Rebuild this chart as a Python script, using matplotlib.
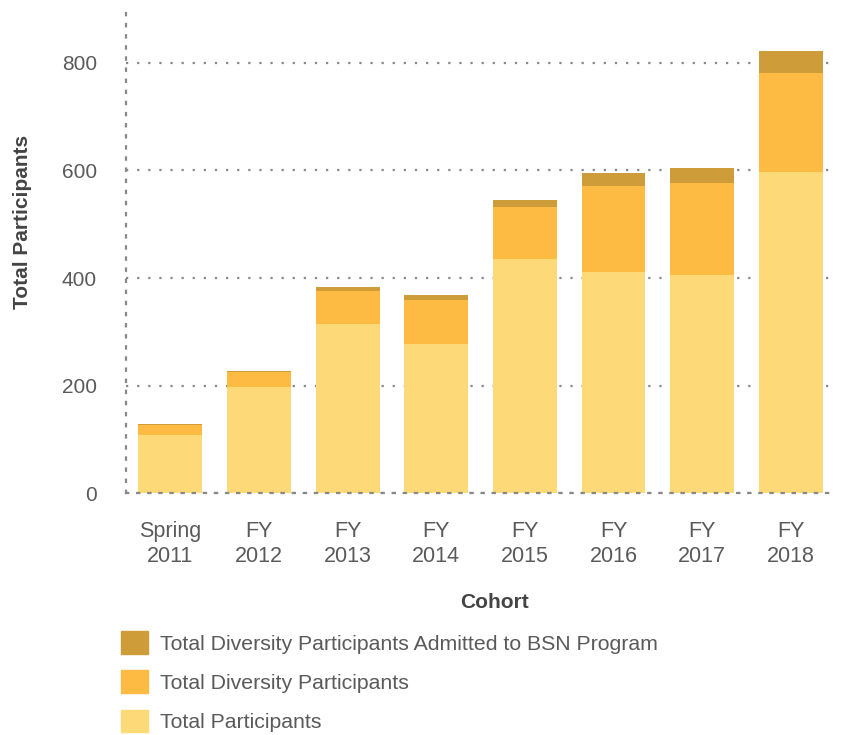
import numpy as np
import matplotlib
matplotlib.use("Agg")
import matplotlib.pyplot as plt
from matplotlib.patches import Patch

# data
cohorts = ["Spring\n2011", "FY\n2012", "FY\n2013", "FY\n2014",
           "FY\n2015", "FY\n2016", "FY\n2017", "FY\n2018"]
total = [108, 198, 315, 277, 435, 411, 405, 597]
diversity = [19, 28, 61, 82, 97, 160, 171, 184]
admitted = [2, 2, 7, 9, 13, 24, 28, 41]

c_light = "#FDD977"
c_mid = "#FEBB43"
c_dark = "#CE9C38"
grey = "#5a5a5a"

plt.rcParams['font.family'] = ['Liberation Sans', 'DejaVu Sans']

fig = plt.figure(figsize=(8.46, 7.35), dpi=100)
ax = fig.add_axes([0.149, 0.3286, 0.838, 0.6544])

x = np.arange(len(cohorts))
w = 0.72
ax.bar(x, total, w, color=c_light, zorder=2)
bot2 = np.array(total)
ax.bar(x, diversity, w, bottom=bot2, color=c_mid, zorder=2)
bot3 = bot2 + np.array(diversity)
ax.bar(x, admitted, w, bottom=bot3, color=c_dark, zorder=2)

ax.set_xlim(-0.5, 7.5)
ax.set_ylim(0, 893)
ax.set_yticks([0, 200, 400, 600, 800])
ax.set_xticks(x)
ax.set_xticklabels(cohorts, linespacing=1.25, fontsize=15.5)

dots = (0, (1, 4))
for s in ["top", "right"]:
    ax.spines[s].set_visible(False)
for s in ["left", "bottom"]:
    ax.spines[s].set_color("#888888")
    ax.spines[s].set_linewidth(1.6)
    ax.spines[s].set_linestyle(dots)

ax.yaxis.grid(True, color="#888888", linewidth=1.6, linestyle=dots, zorder=1)
ax.tick_params(axis="both", length=0, labelcolor=grey)
ax.tick_params(axis="y", pad=21, labelsize=15)
ax.tick_params(axis="x", pad=20)

ax.set_ylabel("Total Participants", fontsize=15, fontweight="bold", color="#444444")
ax.yaxis.set_label_coords(-0.133, 0.565)
ax.set_xlabel("Cohort", fontsize=15, fontweight="bold", color="#444444")
ax.xaxis.set_label_coords(0.52, -0.206)

handles = [Patch(color=c_dark), Patch(color=c_mid), Patch(color=c_light)]
labels = ["Total Diversity Participants Admitted to BSN Program",
          "Total Diversity Participants", "Total Participants"]
leg = fig.legend(handles, labels, loc="upper left", bbox_to_anchor=(0.143, 0.141),
                 frameon=False, fontsize=15.3, handlelength=1.27, handleheight=1.27,
                 handletextpad=0.55, labelspacing=0.77, borderpad=0, borderaxespad=0)
for t in leg.get_texts():
    t.set_color(grey)

fig.savefig("out.png", dpi=100)
